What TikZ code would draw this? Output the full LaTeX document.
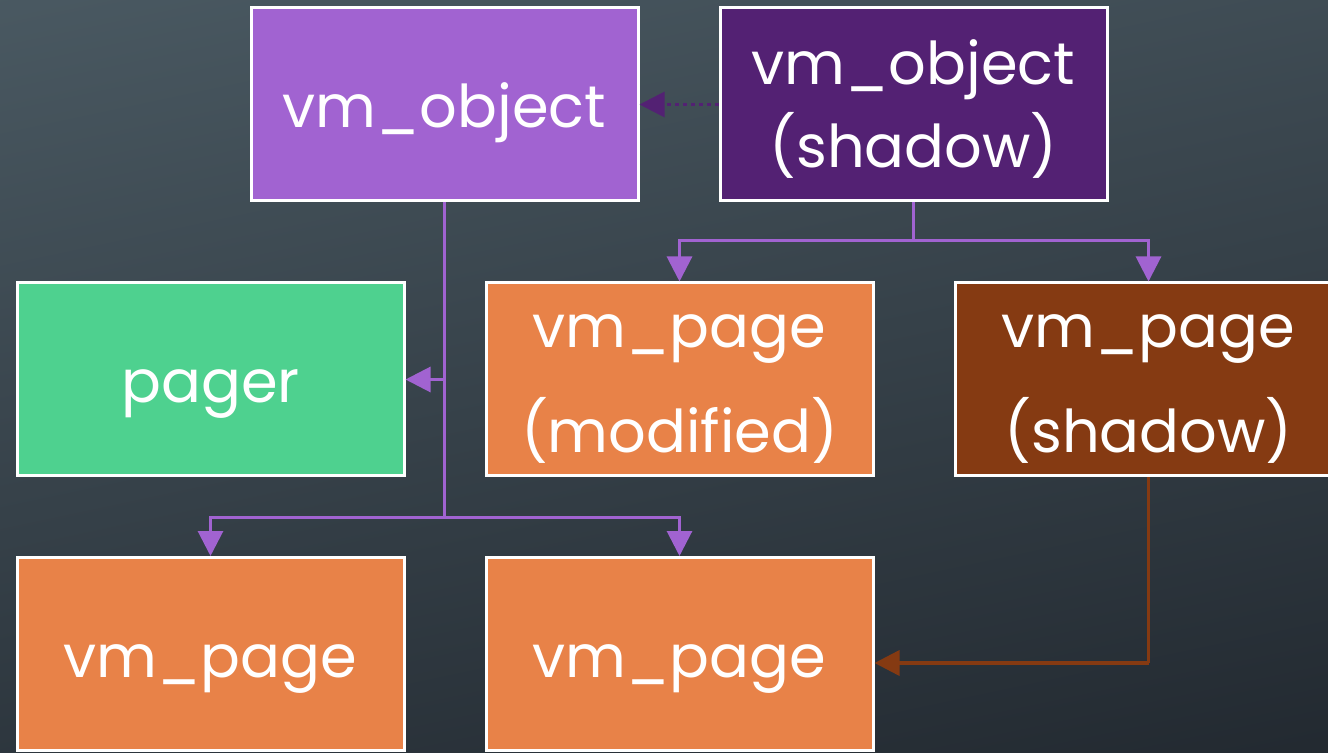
\documentclass[tikz,border=0pt]{standalone}
\usepackage{fontspec}
\setmainfont{Poppins}
\usetikzlibrary{arrows.meta}
\definecolor{bgA}{HTML}{4E5E67}
\definecolor{bgB}{HTML}{1E242B}
\definecolor{objc}{HTML}{A163D1}
\definecolor{shobjc}{HTML}{532173}
\definecolor{pagerc}{HTML}{4ED18F}
\definecolor{orangec}{HTML}{E88248}
\definecolor{brownc}{HTML}{853A12}
\newcommand\lowr[1]{\raisebox{-5pt}[\height][\depth]{#1}}
\tikzset{
  box/.style={draw=white, line width=1.5pt, minimum width=193.5pt, minimum height=96.5pt,
    text=white, font=\fontsize{29.5}{36.5}\selectfont, align=center, inner sep=0pt},
  onebox/.style={box, text height=25.5pt, text depth=2.5pt},
  conn/.style={line width=1.5pt, -{Triangle[width=12.5pt,length=12.5pt]}},
}
\begin{document}
\begin{tikzpicture}[x=0.5pt,y=-0.5pt]
\useasboundingbox (0,0) rectangle (1328,753);
\shade[shading=axis, top color=bgA, bottom color=bgB, shading angle=12] (-200,-200) rectangle (1528,953);
\begin{scope}
\clip (0,0) rectangle (1328,753);
\node[onebox, fill=objc] (obj) at (444.5,104.5) {vm\_object};
\node[box, fill=shobjc] (shobj) at (913.5,104.5) {vm\_object\\\lowr{(shadow)}};
\node[onebox, fill=pagerc] (pager) at (210.5,379.5) {pager};
\node[box, fill=orangec] (modpage) at (679.5,379.5) {\lowr{vm\_page}\\[16pt]\lowr{(modified)}};
\node[box, fill=brownc] (shpage) at (1148.5,379.5) {\lowr{vm\_page}\\[16pt]\lowr{(shadow)}};
\node[onebox, fill=orangec] (page1) at (210.5,654) {vm\_page};
\node[onebox, fill=orangec] (page2) at (679.5,654) {vm\_page};
\end{scope}
\coordinate (j1) at (913.5,241);
\coordinate (j2) at (444.5,517);
\coordinate (j3) at (444.5,379.5);
\coordinate (j4) at (1148.5,663);
\draw[conn, shobjc, dash pattern=on 1.75pt off 2.25pt] (shobj.west) -- (obj.east);
\draw[line width=1.5pt, objc] (shobj.south) -- (j1);
\draw[conn, objc] (j1) -| (modpage.north);
\draw[conn, objc] (j1) -| (shpage.north);
\draw[line width=1.5pt, objc] (obj.south) -- (j2);
\draw[conn, objc] (j3) -- (pager.east);
\draw[conn, objc] (j2) -| (page1.north);
\draw[conn, objc] (j2) -| (page2.north);
\draw[line width=1.75pt, brownc] (shpage.south) -- (j4);
\draw[conn, line width=1.75pt, brownc] (j4) -- (page2.east |- j4);
\end{tikzpicture}
\end{document}
